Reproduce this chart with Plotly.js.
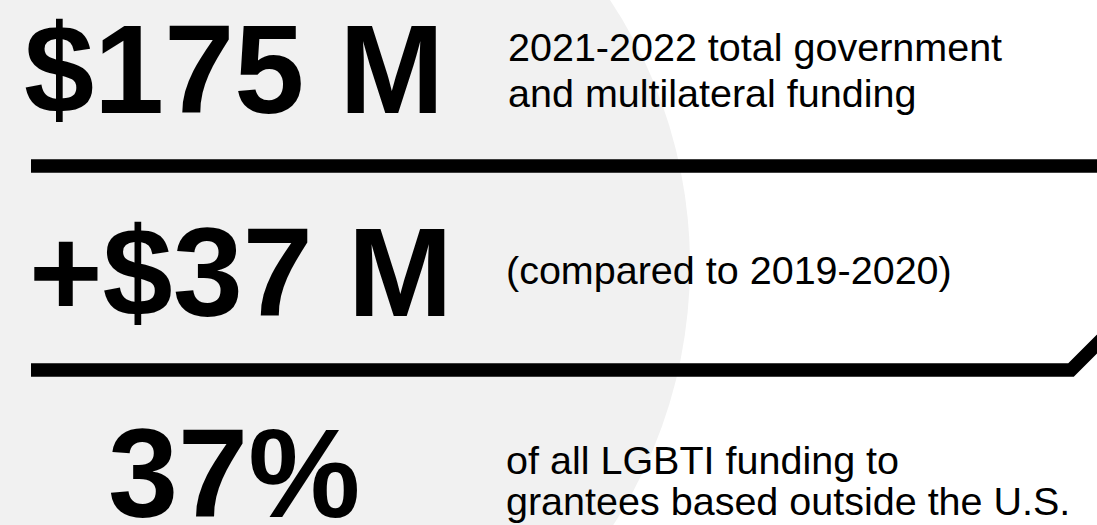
<!DOCTYPE html>
<html>
<head>
<meta charset="utf-8">
<script src="https://cdn.plot.ly/plotly-3.0.1.min.js"></script>
<style>html,body{margin:0;padding:0;background:#fff;}#chart{width:1097px;height:525px;}</style>
</head>
<body>
<div id="chart"></div>
<script>
// Headline figures and their captions
var figures = ['$175 M', '+$37 M', '37%'];
var captionLines1 = ['2021-2022 total government', 'and multilateral funding'];
var captionLines2 = ['(compared to 2019-2020)'];
var captionLines3 = ['of all LGBTI funding to', 'grantees based outside the U.S.'];

var W = 1097, H = 525;
var FONT = '"Liberation Sans", Arial, Helvetica, sans-serif';
var BIG = 126, SMALL = 39.5;

// baseline -> middle of text box
function mid(baseline, size) { return baseline - 0.32 * size; }

var annotations = [];
function addText(txt, x, baseline, size, bold) {
  annotations.push({
    text: bold ? '<b>' + txt + '</b>' : txt,
    x: x, y: mid(baseline, size), xref: 'x', yref: 'y',
    xanchor: 'left', yanchor: 'middle', showarrow: false,
    borderpad: 0,
    font: {family: FONT, size: size, color: '#000'}
  });
}

addText(figures[0], 23, 109.5, BIG, true);
addText(figures[1], 28, 313, BIG, true);
addText(figures[2], 107, 513.5, BIG, true);

var cap1Base = [59.5, 106];
captionLines1.forEach(function (t, i) { addText(t, 507, cap1Base[i], SMALL, false); });
captionLines2.forEach(function (t) { addText(t, 505, 283, SMALL, false); });
var cap3Base = [473, 514];
captionLines3.forEach(function (t, i) { addText(t, 505, cap3Base[i], SMALL, false); });

var shapes = [
  {type: 'circle', xref: 'x', yref: 'y', x0: 211 - 479, x1: 211 + 479, y0: 265 - 479, y1: 265 + 479,
   fillcolor: '#f1f1f1', line: {width: 0}, layer: 'below'},
  {type: 'line', xref: 'x', yref: 'y', x0: 31, x1: 1110, y0: 166, y1: 166,
   line: {color: '#000', width: 13.5}},
  {type: 'path', xref: 'x', yref: 'y', path: 'M 31 370 L 1071 370 L 1120 321',
   line: {color: '#000', width: 13.5}}
];

var layout = {
  width: W, height: H,
  margin: {l: 0, r: 0, t: 0, b: 0, pad: 0},
  paper_bgcolor: '#fff', plot_bgcolor: '#fff',
  xaxis: {range: [0, W], visible: false, fixedrange: true},
  yaxis: {range: [H, 0], visible: false, fixedrange: true},
  showlegend: false,
  shapes: shapes,
  annotations: annotations
};

Plotly.newPlot('chart', [{x: [], y: [], type: 'scatter', hoverinfo: 'skip'}], layout, {displayModeBar: false, staticPlot: true});
</script>
</body>
</html>
